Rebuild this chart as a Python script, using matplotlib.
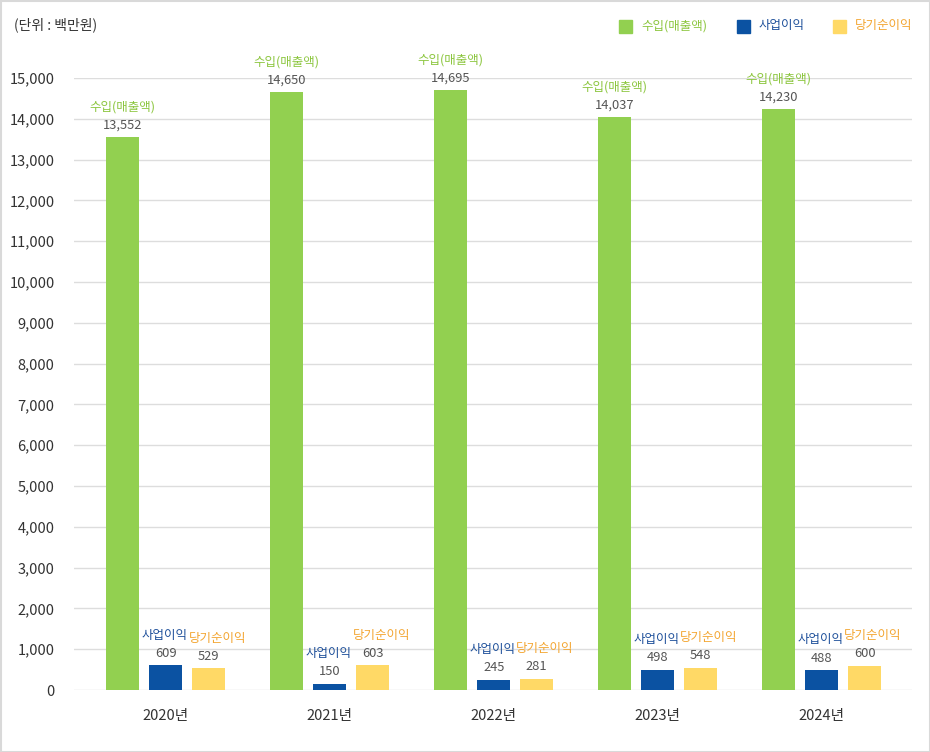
import matplotlib.pyplot as plt
from matplotlib.patches import Rectangle

plt.rcParams['font.family'] = ['Noto Sans CJK KR', 'DejaVu Sans']

years = ['2020년', '2021년', '2022년', '2023년', '2024년']
series_names = ['수입(매출액)', '사업이익', '당기순이익']
revenue = [13552, 14650, 14695, 14037, 14230]
op_profit = [609, 150, 245, 498, 488]
net_profit = [529, 603, 281, 548, 600]

bar_colors = ['#92d050', '#0b52a2', '#ffd966']
name_colors = ['#8cc63f', '#1d4f9a', '#f3a530']

fig = plt.figure(figsize=(9.3, 7.52), dpi=100)
ax = fig.add_axes([74 / 930, 62 / 752, 838 / 930, 612 / 752])

width = 0.2
offsets = [-0.262, 0, 0.262]
name_shift = [0, -1, 6]  # points, keeps the small-bar names apart
data = [revenue, op_profit, net_profit]
x = list(range(len(years)))

for k, vals in enumerate(data):
    xs = [i + offsets[k] for i in x]
    ax.bar(xs, vals, width=width, color=bar_colors[k], zorder=3)
    for xi, v in zip(xs, vals):
        ax.annotate(f'{v:,}', (xi, v), xytext=(0, 4), textcoords='offset points',
                    ha='center', va='bottom', fontsize=9.3, color='#555555')
        ax.annotate(series_names[k], (xi, v), xytext=(name_shift[k], 17), textcoords='offset points',
                    ha='center', va='bottom', fontsize=9, color=name_colors[k])

ax.set_xlim(-0.56, 4.55)
ax.set_ylim(0, 15000)
ax.set_yticks(range(0, 15001, 1000))
ax.set_yticklabels([f'{t:,}' for t in range(0, 15001, 1000)])
ax.set_xticks(x)
ax.set_xticklabels(years)
ax.yaxis.grid(True, color='#dddddd', linewidth=1, zorder=0)
for s in ax.spines.values():
    s.set_visible(False)
ax.tick_params(axis='y', length=0, pad=14, labelsize=10.5, labelcolor='#333333')
ax.tick_params(axis='x', length=0, pad=14, labelsize=10.5, labelcolor='#333333')

fig.text(14 / 930, 1 - 25 / 752, '(단위 : 백만원)', fontsize=10, color='#333333', va='center')

# legend
leg_x = [619, 737, 833]
for k in range(3):
    fig.patches.append(Rectangle((leg_x[k] / 930, 1 - 33 / 752), 13 / 930, 13 / 752,
                                 transform=fig.transFigure, color=bar_colors[k]))
    fig.text((leg_x[k] + 22) / 930, 1 - 26 / 752, series_names[k], fontsize=9,
             color=name_colors[k], va='center')

fig.patches.append(Rectangle((0.5 / 930, 0.5 / 752), 929 / 930, 751 / 752, transform=fig.transFigure,
                             fill=False, edgecolor='#d9d9d9', linewidth=1.5))

fig.savefig('out.png', dpi=100)
